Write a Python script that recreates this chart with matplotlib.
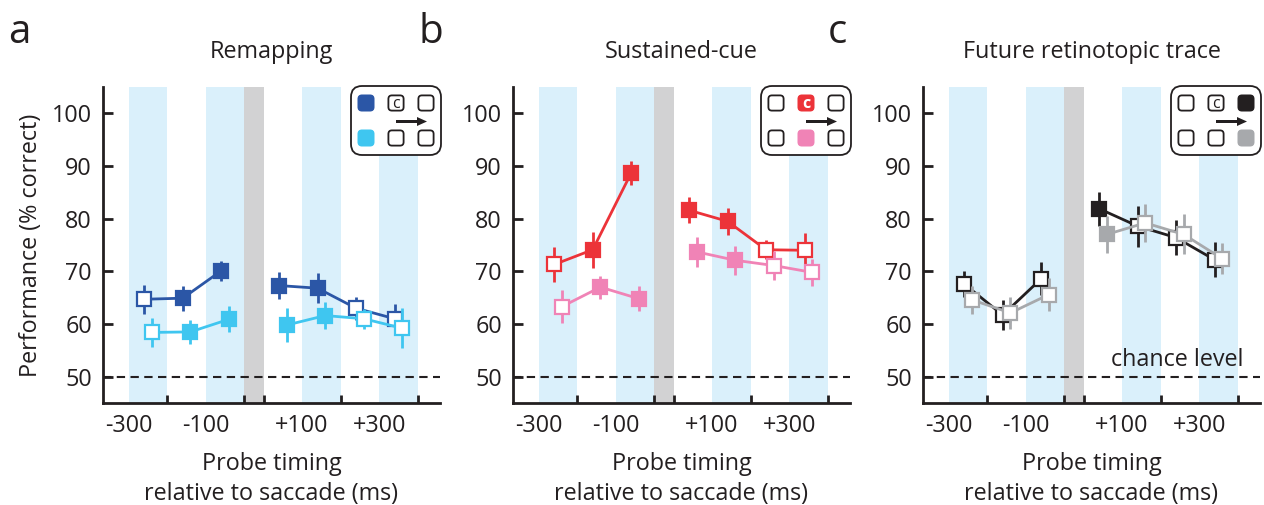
import matplotlib
matplotlib.use("Agg")
import matplotlib.pyplot as plt
from matplotlib.patches import FancyBboxPatch, FancyArrow
import numpy as np

plt.rcParams['font.family'] = ['Open Sans', 'DejaVu Sans']

# probe positions on the plotting axis (post-saccadic probes shifted by the saccade gap)
pre_pos = [-300, -200, -100]
post_pos = [50, 150, 250, 350]
tick_pos = [-350, -150, 100, 300]
tick_labels = ["-300", "-100", "+100", "+300"]
band_edges = [(-350, -250), (-150, -50), (100, 200), (300, 400)]
saccade_span = (-50, 0)

titles = ["Remapping", "Sustained-cue", "Future retinotopic trace"]
letters = ["a", "b", "c"]

# panel a
remap_dark = [64.7, 64.9, 70.1, 67.3, 66.8, 63.0, 61.0]
remap_dark_err = [2.8, 2.4, 1.9, 2.6, 2.8, 2.2, 2.8]
remap_dark_fill = [False, True, True, True, True, False, False]
remap_light = [58.4, 58.5, 60.9, 59.8, 61.6, 61.0, 59.2]
remap_light_err = [2.7, 2.3, 2.5, 3.3, 2.6, 1.9, 3.8]
remap_light_fill = [False, True, True, True, True, False, False]

# panel b
sust_dark = [71.3, 74.1, 88.7, 81.6, 79.5, 74.1, 74.0]
sust_dark_err = [3.3, 3.4, 2.3, 2.5, 2.6, 1.8, 3.2]
sust_dark_fill = [False, True, True, True, True, False, False]
sust_light = [63.3, 67.0, 64.8, 73.7, 72.1, 71.1, 69.8]
sust_light_err = [3.1, 2.2, 2.4, 2.9, 2.8, 2.8, 2.5]
sust_light_fill = [False, True, True, True, True, False, False]

# panel c
fut_dark = [67.6, 61.7, 68.6, 81.9, 78.6, 76.4, 72.2]
fut_dark_err = [2.4, 2.9, 3.1, 3.2, 3.9, 3.3, 3.3]
fut_dark_fill = [False, False, False, True, False, False, False]
fut_light = [64.6, 62.1, 65.6, 77.0, 79.2, 77.0, 72.4]
fut_light_err = [2.7, 3.0, 3.1, 3.6, 3.6, 3.8, 3.0]
fut_light_fill = [False, False, False, True, False, False, False]

colors = [("#2b56a6", "#3fc6f0"), ("#ec3339", "#f083b6"), ("#231f20", "#a7a9ac")]
series = [
    (remap_dark, remap_dark_err, remap_dark_fill, remap_light, remap_light_err, remap_light_fill),
    (sust_dark, sust_dark_err, sust_dark_fill, sust_light, sust_light_err, sust_light_fill),
    (fut_dark, fut_dark_err, fut_dark_fill, fut_light, fut_light_err, fut_light_fill),
]
# column of the coloured squares in each inset
inset_col = [0, 1, 2]

W, H = 1264, 505
fig = plt.figure(figsize=(W / 100, H / 100), dpi=100)
ink = "#231f20"
fs = 16.8


def px_axes(left, top, width, height):
    return fig.add_axes([left / W, 1 - (top + height) / H, width / W, height / H])


def draw_series(ax, xs, ys, errs, fills, color, z):
    n = len(pre_pos)
    for seg in (slice(0, n), slice(n, None)):
        ax.plot(xs[seg], ys[seg], color=color, lw=2, zorder=z, solid_capstyle='butt')
    for x, y, e, f in zip(xs, ys, errs, fills):
        ax.plot([x, x], [y - e, y + e], color=color, lw=2, zorder=z, solid_capstyle='butt')
        ax.plot(x, y, marker='s', ms=9.8, mew=1.6, mec=color,
                mfc=color if f else 'white', zorder=z + 0.5)


def draw_inset(left, top, col, dark, light):
    iax = px_axes(left, top, 92, 71)
    iax.set_xlim(0, 92)
    iax.set_ylim(71, 0)
    iax.axis('off')
    iax.add_patch(FancyBboxPatch((1, 1), 90, 69, boxstyle="round,pad=0,rounding_size=11",
                                 fc='white', ec=ink, lw=1.3))
    cols = [16, 46, 76]
    rows = [18, 53]
    for r, ry in enumerate(rows):
        for c, cx in enumerate(cols):
            filled = (c == col)
            fc = (dark if r == 0 else light) if filled else 'white'
            ec = fc if filled else ink
            iax.add_patch(FancyBboxPatch((cx - 7.6, ry - 7.6), 15.2, 15.2,
                                         boxstyle="round,pad=0,rounding_size=3.5",
                                         fc=fc, ec=ec, lw=1.3))
    # cue letter
    cc = 'white' if col == 1 else ink
    iax.text(46, 18.5, "c", ha='center', va='center', fontsize=11.5, color=cc,
             fontweight='bold' if col == 1 else 'normal')
    iax.add_patch(FancyArrow(46, 36.5, 21, 0, width=3, head_width=9, head_length=10,
                             length_includes_head=False, fc=ink, ec=ink, lw=0))


for i in range(3):
    off = 410 * i
    ax = px_axes(103 + off, 87, 337, 316)
    ax.set_xlim(-417, 458)
    ax.set_ylim(45, 105)
    for a, b in band_edges:
        ax.axvspan(a, b, color="#daf0fb", lw=0, zorder=0)
    ax.axvspan(*saccade_span, color="#d2d2d3", lw=0, zorder=0)
    ax.axhline(50, color=ink, lw=1.5, dashes=(4, 2.6), zorder=1)

    dk, dk_e, dk_f, lt, lt_e, lt_f = series[i]
    pos = pre_pos + post_pos
    draw_series(ax, np.array(pos) - 10, dk, dk_e, dk_f, colors[i][0], 3)
    draw_series(ax, np.array(pos) + 10, lt, lt_e, lt_f, colors[i][1], 4)

    for s in ['top', 'right']:
        ax.spines[s].set_visible(False)
    for s in ['left', 'bottom']:
        ax.spines[s].set_linewidth(2)
        ax.spines[s].set_color(ink)
    ax.set_yticks([50, 60, 70, 80, 90, 100])
    ax.tick_params(axis='y', direction='in', length=7, width=2, color=ink,
                   labelsize=fs, labelcolor=ink, pad=8)
    ax.set_xticks(tick_pos)
    ax.set_xticklabels(tick_labels)
    ax.set_xticks([-350, -250, -150, -50, 0, 100, 200, 300, 400], minor=True)
    ax.tick_params(axis='x', which='major', length=0, labelsize=fs, labelcolor=ink, pad=8)
    ax.tick_params(axis='x', which='minor', direction='in', length=6, width=2, color=ink)
    ax.set_xlabel("Probe timing\nrelative to saccade (ms)", fontsize=fs, color=ink,
                  labelpad=10, linespacing=1.35)
    ax.set_title(titles[i], fontsize=fs, color=ink, pad=21)
    if i == 0:
        ax.set_ylabel("Performance (% correct)", fontsize=fs, color=ink, labelpad=6)
    if i == 2:
        ax.text(414, 52, "chance level", ha='right', va='baseline', fontsize=fs, color=ink)

    fig.text((8 + off) / W, 1 - 43 / H, letters[i], fontsize=29, color=ink,
             ha='left', va='baseline')
    draw_inset(350 + off, 85, inset_col[i], colors[i][0], colors[i][1])

fig.savefig("out.png", dpi=100)
